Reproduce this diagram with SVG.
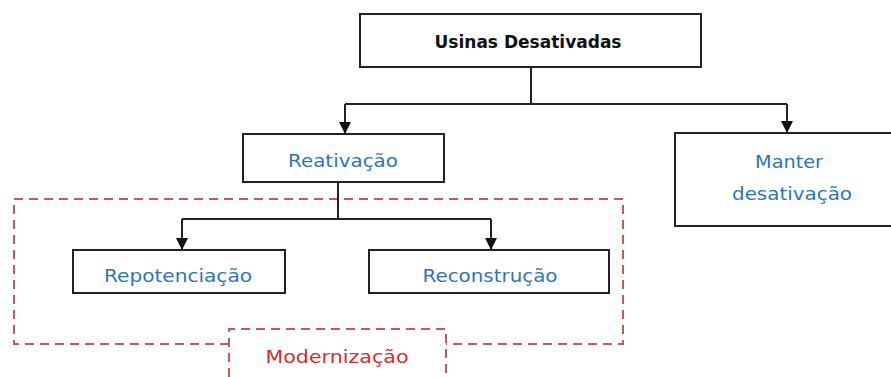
<svg xmlns="http://www.w3.org/2000/svg" width="891" height="377" viewBox="0 0 891 377">
<style>
.box{fill:#fff;stroke:#222;stroke-width:2}
.lbl{font-family:"DejaVu Sans","Liberation Sans",sans-serif;font-size:17.5px;fill:#2E75B6;text-anchor:middle}
.ttl{font-family:"DejaVu Sans","Liberation Sans",sans-serif;font-size:17px;font-weight:bold;fill:#111;text-anchor:middle}
.red{font-family:"DejaVu Sans","Liberation Sans",sans-serif;font-size:18px;fill:#D92B2B;text-anchor:middle}
.dash{fill:none;stroke:#C75A57;stroke-width:2;stroke-dasharray:9 6}
.con{fill:none;stroke:#222;stroke-width:2}
</style>
<defs>
<marker id="arr" viewBox="0 0 12 12" refX="12" refY="6" markerWidth="12" markerHeight="12" markerUnits="userSpaceOnUse" orient="auto">
<path d="M0,0 L12,6 L0,12 z" fill="#111"/>
</marker>
</defs>
<rect width="891" height="377" fill="#fff"/>
<g id="modernizacao-group">
<path class="dash" d="M229,344 L14,344 L14,199 L623,199 L623,344 L446,344"/>
<path class="dash" d="M229,377 L229,329 L446,329 L446,377"/>
<text class="red" x="337" y="363" textLength="143" lengthAdjust="spacingAndGlyphs">Modernização</text>
</g>
<g id="connectors">
<path class="con" d="M531,67 L531,104"/>
<path class="con" d="M345,104 L787,104"/>
<path class="con" d="M345,104 L345,134" marker-end="url(#arr)"/>
<path class="con" d="M787,104 L787,133" marker-end="url(#arr)"/>
<path class="con" d="M338,182 L338,219"/>
<path class="con" d="M182,219 L491,219"/>
<path class="con" d="M182,219 L182,250" marker-end="url(#arr)"/>
<path class="con" d="M491,219 L491,250" marker-end="url(#arr)"/>
</g>
<g id="usinas">
<rect class="box" x="360" y="14" width="341" height="53"/>
<text class="ttl" x="528" y="48" textLength="187" lengthAdjust="spacingAndGlyphs">Usinas  Desativadas</text>
</g>
<g id="reativacao">
<rect class="box" x="243" y="134" width="201" height="48"/>
<text class="lbl" x="343" y="167" textLength="110" lengthAdjust="spacingAndGlyphs">Reativação</text>
</g>
<g id="manter">
<rect class="box" x="675" y="133" width="230" height="93"/>
<text class="lbl" x="789" y="168" textLength="68" lengthAdjust="spacingAndGlyphs">Manter</text>
<text class="lbl" x="792" y="200" textLength="120" lengthAdjust="spacingAndGlyphs">desativação</text>
</g>
<g id="repotenciacao">
<rect class="box" x="73" y="250" width="212" height="43"/>
<text class="lbl" x="178" y="282" textLength="148" lengthAdjust="spacingAndGlyphs">Repotenciação</text>
</g>
<g id="reconstrucao">
<rect class="box" x="369" y="250" width="240" height="43"/>
<text class="lbl" x="490" y="282" textLength="135" lengthAdjust="spacingAndGlyphs">Reconstrução</text>
</g>
</svg>
